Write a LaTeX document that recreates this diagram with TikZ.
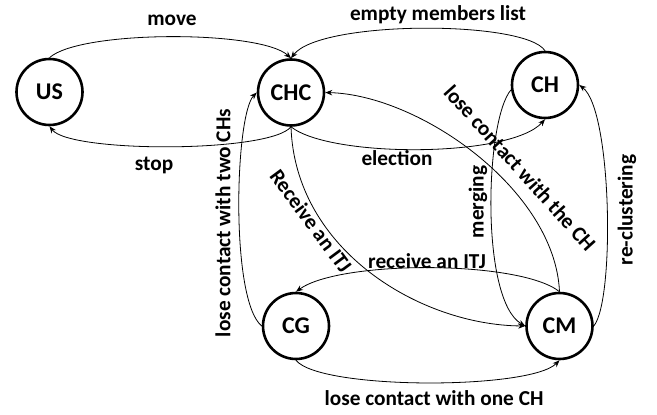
\documentclass[tikz,border=0pt]{standalone}
\usepackage{fontspec}
\setmainfont{Carlito}
\usetikzlibrary{arrows.meta}
\begin{document}
\begin{tikzpicture}[x=1pt,y=-1pt,
  state/.style={circle,draw=black,line width=2.6pt,fill=white,minimum size=66pt,inner sep=0pt,font=\fontsize{24}{28}\selectfont\bfseries},
  lab/.style={inner sep=0pt,font=\fontsize{21.3}{25}\selectfont\bfseries},
  conn/.style={line width=0.8pt,-{Stealth[length=7pt,width=5.5pt]}}]
\useasboundingbox (0,0) rectangle (657,415);
\node[state] (us)  at (49.5,92) {US};
\node[state] (chc) at (291,92.5) {CHC};
\node[state] (ch)  at (545,85) {CH};
\node[state] (cg)  at (296,326) {CG};
\node[state] (cm)  at (559.5,326) {CM};
% connectors
\draw[conn] (us.north) .. controls (80,30) and (260,30) .. (chc.north);
\draw[conn] (chc.south) .. controls (270,153) and (70,153) .. (us.south);
\draw[conn] (ch.north) .. controls (525,20) and (320,20) .. (chc.north);
\draw[conn] (chc.south) .. controls (330,158) and (510,158) .. (ch.south);
\draw[conn] (cm.north) .. controls (555,190) and (420,95) .. (chc.east);
\draw[conn] (ch.188) .. controls (485,120) and (480,300) .. (cm.west);
\draw[conn] (cm.east) .. controls (615,300) and (612,110) .. (ch.east);
\draw[conn] (cg.west) .. controls (230,300) and (235,115) .. (chc.west);
\draw[conn] (chc.south) .. controls (295,250) and (420,325) .. (cm.west);
\draw[conn] (cm.north) .. controls (520,260) and (340,260) .. (cg.north);
\draw[conn] (cg.south) .. controls (320,390) and (530,390) .. (cm.south);
% labels
\node[lab] (lmove) at (172,20) {move};
\node[lab] (lstop) at (154,165) {stop};
\node[lab] (lempty) at (438,15) {empty members list};
\node[lab] (lelect) at (397,158) {election};
\node[lab,rotate=-48] (llosech) at (520,168) {lose contact with the CH};
\node[lab,rotate=90] (lmerg) at (478,202) {merging};
\node[lab,rotate=90] (lrecl) at (627,210) {re-clustering};
\node[lab,rotate=90] (ltwo) at (223,223) {lose contact with two CHs};
\node[lab,rotate=-53.5] (lrecv1) at (311,221) {Receive an ITJ};
\node[lab] (lrecv2) at (427,261) {receive an ITJ};
\node[lab] (lone) at (434,398) {lose contact with one CH};
\end{tikzpicture}
\end{document}
